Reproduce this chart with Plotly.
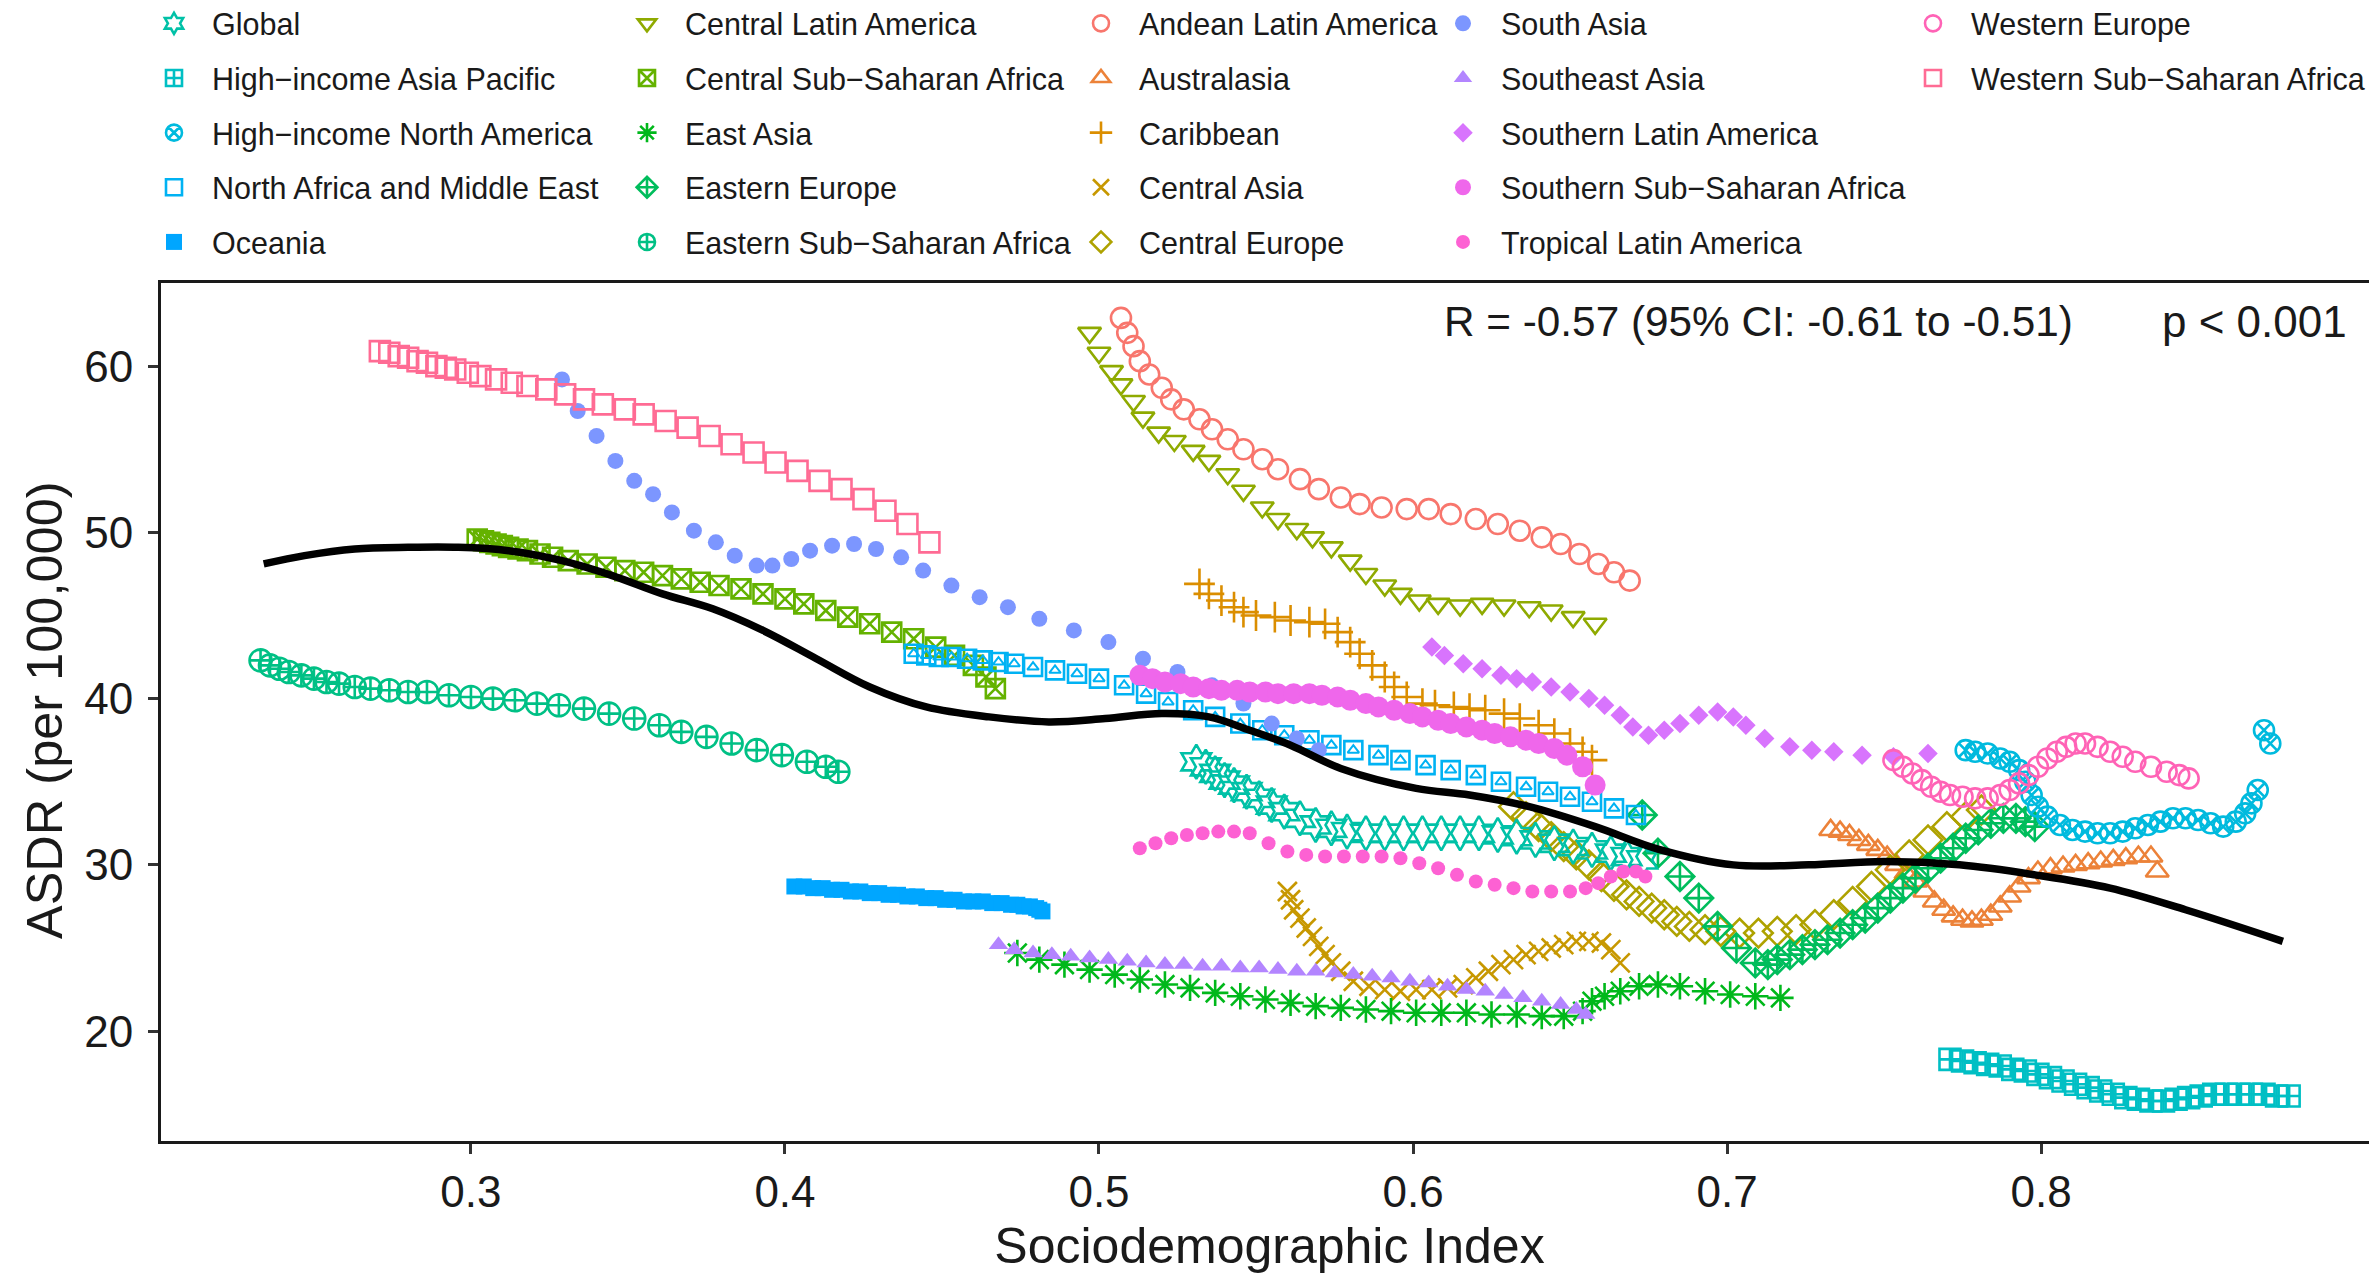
import math
import plotly.graph_objects as go

# ---------------- data ----------------
andean_sdi = [0.507,0.509,0.511,0.513,0.516,0.520,0.523,0.527,0.532,0.536,0.541,0.546,0.552,0.557,0.564,0.570,0.577,0.583,0.590,0.598,0.605,0.612,0.620,0.627,0.634,0.641,0.647,0.653,0.659,0.664,0.669]
andean_asdr = [62.9,62.0,61.2,60.3,59.5,58.7,58.0,57.4,56.8,56.2,55.6,55.0,54.4,53.8,53.2,52.6,52.1,51.7,51.5,51.4,51.4,51.1,50.8,50.5,50.1,49.7,49.3,48.7,48.1,47.6,47.1]

australasia_sdi = [0.733,0.736,0.739,0.742,0.745,0.748,0.751,0.754,0.757,0.760,0.763,0.766,0.769,0.772,0.775,0.778,0.781,0.784,0.787,0.790,0.793,0.796,0.799,0.803,0.807,0.811,0.815,0.819,0.823,0.827,0.831,0.835,0.837]
australasia_asdr = [32.1,32.0,31.8,31.5,31.2,30.9,30.5,30.0,29.5,29.0,28.4,27.8,27.3,26.9,26.7,26.6,26.7,27.0,27.5,28.1,28.7,29.2,29.6,29.8,29.9,30.0,30.1,30.2,30.3,30.4,30.5,30.5,29.6]

caribbean_sdi = [0.532,0.535,0.539,0.543,0.546,0.550,0.556,0.561,0.567,0.572,0.576,0.580,0.583,0.587,0.591,0.594,0.598,0.603,0.607,0.613,0.618,0.623,0.629,0.634,0.640,0.645,0.650,0.654,0.657]
caribbean_asdr = [46.9,46.3,45.9,45.5,45.2,45.0,44.9,44.7,44.6,44.5,44.0,43.4,42.7,42.0,41.3,40.7,40.1,39.7,39.6,39.5,39.4,39.3,39.1,38.8,38.4,37.9,37.3,36.8,36.3]

central_asia_sdi = [0.560,0.561,0.562,0.564,0.566,0.568,0.570,0.572,0.574,0.577,0.581,0.586,0.591,0.596,0.601,0.606,0.611,0.616,0.620,0.624,0.628,0.632,0.636,0.640,0.644,0.648,0.652,0.656,0.660,0.663,0.666]
central_asia_asdr = [28.4,27.9,27.3,26.8,26.2,25.7,25.1,24.6,24.1,23.6,23.0,22.7,22.5,22.4,22.5,22.5,22.6,22.8,23.2,23.6,24.0,24.3,24.6,24.8,25.0,25.2,25.4,25.4,25.3,24.9,24.1]

central_europe_sdi = [0.632,0.636,0.640,0.644,0.648,0.652,0.656,0.660,0.664,0.668,0.672,0.676,0.680,0.684,0.688,0.693,0.698,0.704,0.710,0.716,0.722,0.728,0.734,0.740,0.746,0.752,0.758,0.764,0.770,0.776,0.781]
central_europe_asdr = [33.5,32.9,32.3,31.7,31.1,30.6,30.0,29.3,28.7,28.2,27.8,27.4,27.0,26.6,26.3,26.1,26.0,25.9,25.9,26.0,26.1,26.4,27.0,27.8,28.7,29.7,30.6,31.5,32.3,32.9,33.3]

central_la_sdi = [0.497,0.500,0.504,0.507,0.511,0.514,0.519,0.524,0.530,0.535,0.541,0.546,0.552,0.557,0.563,0.568,0.574,0.580,0.585,0.591,0.596,0.602,0.608,0.615,0.622,0.629,0.637,0.644,0.651,0.658]
central_la_asdr = [62.0,60.8,59.7,58.9,57.9,56.9,56.0,55.5,54.9,54.3,53.5,52.5,51.5,50.8,50.2,49.7,49.1,48.3,47.5,46.8,46.3,45.9,45.7,45.6,45.7,45.6,45.5,45.3,44.9,44.5]

central_ssa_sdi = [0.302,0.304,0.306,0.308,0.310,0.312,0.315,0.318,0.322,0.326,0.331,0.337,0.343,0.349,0.355,0.361,0.367,0.373,0.379,0.386,0.393,0.400,0.406,0.413,0.420,0.427,0.434,0.441,0.448,0.454,0.460,0.464,0.467]
central_ssa_asdr = [49.6,49.5,49.4,49.3,49.2,49.1,49.0,48.9,48.7,48.5,48.3,48.1,47.9,47.7,47.6,47.4,47.2,47.0,46.8,46.6,46.3,46.0,45.7,45.3,44.9,44.5,44.0,43.6,43.1,42.6,42.0,41.3,40.6]

east_asia_sdi = [0.474,0.481,0.489,0.497,0.505,0.513,0.521,0.529,0.537,0.545,0.553,0.561,0.569,0.577,0.585,0.593,0.601,0.609,0.617,0.625,0.633,0.641,0.648,0.654,0.657,0.661,0.666,0.672,0.678,0.685,0.693,0.701,0.709,0.717]
east_asia_asdr = [24.7,24.3,24.0,23.7,23.4,23.1,22.8,22.6,22.3,22.1,21.9,21.7,21.5,21.4,21.3,21.2,21.1,21.1,21.1,21.0,21.0,20.9,20.9,21.2,21.8,22.1,22.4,22.7,22.8,22.7,22.4,22.2,22.1,22.0]

eastern_europe_sdi = [0.673,0.678,0.685,0.691,0.697,0.703,0.709,0.713,0.716,0.720,0.724,0.728,0.732,0.736,0.740,0.744,0.748,0.752,0.756,0.760,0.764,0.768,0.772,0.776,0.780,0.784,0.788,0.792,0.795,0.798]
eastern_europe_asdr = [33.0,30.7,29.3,28.0,26.3,25.0,24.1,24.0,24.3,24.6,24.9,25.2,25.5,25.9,26.4,26.8,27.4,28.0,28.6,29.2,29.8,30.4,31.0,31.6,32.1,32.5,32.8,32.8,32.6,32.3]

eastern_ssa_sdi = [0.233,0.236,0.239,0.242,0.246,0.250,0.254,0.258,0.263,0.268,0.274,0.280,0.286,0.293,0.300,0.307,0.314,0.321,0.328,0.336,0.344,0.352,0.360,0.367,0.375,0.383,0.391,0.399,0.407,0.413,0.417]
eastern_ssa_asdr = [42.3,42.0,41.8,41.6,41.4,41.2,41.0,40.9,40.7,40.6,40.5,40.4,40.4,40.2,40.1,40.0,39.9,39.7,39.6,39.4,39.1,38.8,38.4,38.0,37.7,37.3,36.9,36.6,36.2,35.9,35.6]

global_sdi = [0.531,0.534,0.537,0.540,0.543,0.547,0.551,0.555,0.559,0.564,0.569,0.574,0.579,0.585,0.591,0.597,0.603,0.609,0.615,0.621,0.627,0.633,0.639,0.645,0.651,0.657,0.663,0.668,0.673]
global_asdr = [36.2,35.9,35.5,35.1,34.8,34.4,34.0,33.6,33.2,32.8,32.4,32.2,32.0,31.9,31.9,31.9,31.9,31.9,31.9,31.9,31.8,31.7,31.5,31.3,31.1,30.9,30.7,30.5,30.3]

hi_asia_pacific_sdi = [0.771,0.775,0.779,0.783,0.787,0.791,0.795,0.799,0.803,0.807,0.811,0.815,0.819,0.823,0.827,0.831,0.835,0.839,0.843,0.847,0.851,0.855,0.859,0.863,0.867,0.871,0.875,0.879]
hi_asia_pacific_asdr = [18.3,18.2,18.1,18.0,17.9,17.7,17.6,17.4,17.2,17.0,16.8,16.6,16.4,16.2,16.0,15.9,15.8,15.8,15.9,16.0,16.1,16.2,16.2,16.2,16.2,16.2,16.1,16.1]

hi_north_america_sdi = [0.776,0.779,0.783,0.787,0.790,0.793,0.795,0.797,0.799,0.802,0.806,0.810,0.814,0.818,0.822,0.826,0.830,0.834,0.838,0.842,0.846,0.850,0.854,0.858,0.862,0.865,0.867,0.869,0.871,0.873]
hi_north_america_asdr = [36.9,36.8,36.7,36.4,36.2,35.7,35.0,34.2,33.5,32.9,32.4,32.1,32.0,31.9,31.9,32.0,32.2,32.4,32.6,32.8,32.8,32.7,32.5,32.3,32.6,33.1,33.7,34.5,38.1,37.3]

name_sdi = [0.441,0.445,0.449,0.453,0.458,0.463,0.468,0.473,0.479,0.486,0.493,0.500,0.508,0.515,0.522,0.530,0.537,0.545,0.552,0.559,0.567,0.574,0.581,0.589,0.596,0.604,0.612,0.620,0.628,0.636,0.643,0.650,0.657,0.664,0.671]
name_asdr = [42.7,42.6,42.5,42.5,42.4,42.3,42.2,42.1,41.9,41.7,41.5,41.2,40.8,40.3,39.8,39.3,38.9,38.5,38.1,37.8,37.5,37.2,36.9,36.6,36.3,36.0,35.7,35.4,35.0,34.7,34.4,34.1,33.8,33.4,33.0]

oceania_sdi = [0.403,0.406,0.409,0.412,0.415,0.418,0.421,0.424,0.427,0.430,0.433,0.436,0.439,0.442,0.445,0.448,0.451,0.454,0.457,0.460,0.463,0.466,0.469,0.472,0.474,0.476,0.478,0.480,0.481,0.482]
oceania_asdr = [28.7,28.7,28.6,28.6,28.5,28.5,28.4,28.4,28.3,28.3,28.2,28.2,28.1,28.1,28.0,28.0,27.9,27.9,27.8,27.8,27.8,27.7,27.7,27.6,27.6,27.5,27.5,27.4,27.3,27.2]

south_asia_sdi = [0.329,0.334,0.340,0.346,0.352,0.358,0.364,0.371,0.378,0.384,0.391,0.396,0.402,0.408,0.415,0.422,0.429,0.437,0.444,0.453,0.462,0.471,0.481,0.492,0.503,0.514,0.525,0.536,0.546,0.555,0.563,0.570]
south_asia_asdr = [59.2,57.3,55.8,54.3,53.1,52.3,51.2,50.1,49.4,48.6,48.0,48.0,48.4,48.9,49.2,49.3,49.0,48.5,47.7,46.8,46.1,45.5,44.8,44.1,43.4,42.4,41.6,40.8,39.7,38.5,37.6,36.9]

southeast_asia_sdi = [0.468,0.473,0.479,0.485,0.491,0.497,0.503,0.509,0.515,0.521,0.527,0.533,0.539,0.545,0.551,0.557,0.563,0.569,0.575,0.581,0.587,0.593,0.599,0.605,0.611,0.617,0.623,0.629,0.635,0.641,0.647,0.652,0.655]
southeast_asia_asdr = [25.2,24.9,24.7,24.6,24.5,24.4,24.3,24.2,24.1,24.0,24.0,23.9,23.9,23.8,23.8,23.7,23.6,23.6,23.5,23.4,23.3,23.2,23.0,22.9,22.7,22.5,22.4,22.2,22.0,21.8,21.6,21.3,21.0]

southern_la_sdi = [0.606,0.610,0.616,0.622,0.628,0.633,0.638,0.644,0.650,0.656,0.661,0.666,0.670,0.675,0.680,0.685,0.691,0.697,0.702,0.706,0.712,0.720,0.727,0.734,0.743,0.753,0.764]
southern_la_asdr = [43.1,42.6,42.1,41.8,41.4,41.2,41.0,40.7,40.4,40.0,39.6,39.0,38.3,37.8,38.1,38.5,39.0,39.2,38.9,38.4,37.6,37.1,36.9,36.8,36.6,36.5,36.7]

southern_ssa_sdi = [0.513,0.517,0.521,0.526,0.530,0.535,0.539,0.544,0.548,0.553,0.557,0.562,0.567,0.571,0.576,0.580,0.585,0.589,0.594,0.599,0.603,0.608,0.612,0.617,0.622,0.626,0.631,0.636,0.640,0.645,0.649,0.654,0.658]
southern_ssa_asdr = [41.4,41.2,41.0,40.9,40.7,40.6,40.5,40.5,40.4,40.4,40.3,40.3,40.3,40.2,40.1,39.9,39.7,39.5,39.3,39.1,38.9,38.7,38.5,38.3,38.1,37.9,37.7,37.5,37.3,37.0,36.6,35.9,34.8]

tropical_la_sdi = [0.513,0.518,0.523,0.528,0.533,0.538,0.543,0.548,0.554,0.560,0.566,0.572,0.578,0.584,0.590,0.596,0.602,0.608,0.614,0.620,0.626,0.632,0.638,0.644,0.650,0.655,0.659,0.663,0.667,0.671,0.674]
tropical_la_asdr = [31.0,31.3,31.6,31.8,31.9,32.0,32.0,31.9,31.3,30.8,30.6,30.5,30.5,30.5,30.5,30.4,30.1,29.8,29.4,29.0,28.8,28.6,28.4,28.4,28.4,28.6,28.9,29.3,29.6,29.6,29.3]

western_europe_sdi = [0.753,0.756,0.759,0.762,0.765,0.768,0.771,0.775,0.779,0.783,0.787,0.790,0.793,0.796,0.799,0.802,0.805,0.808,0.811,0.814,0.818,0.822,0.826,0.830,0.835,0.840,0.844,0.847]
western_europe_asdr = [36.3,35.9,35.5,35.1,34.7,34.4,34.2,34.1,34.0,34.0,34.2,34.5,34.9,35.4,35.9,36.4,36.8,37.1,37.3,37.3,37.1,36.8,36.5,36.2,35.9,35.6,35.4,35.2]

western_ssa_sdi = [0.271,0.274,0.277,0.280,0.283,0.286,0.289,0.292,0.295,0.299,0.303,0.308,0.313,0.318,0.324,0.330,0.336,0.342,0.349,0.355,0.362,0.369,0.376,0.383,0.390,0.397,0.404,0.411,0.418,0.425,0.432,0.439,0.446]
western_ssa_asdr = [60.9,60.8,60.6,60.5,60.3,60.2,60.0,59.9,59.8,59.6,59.4,59.2,59.0,58.8,58.6,58.3,58.0,57.7,57.4,57.1,56.7,56.3,55.8,55.3,54.8,54.2,53.7,53.1,52.6,52.0,51.3,50.5,49.4]

# overall smoothed fit (black curve)
fit_sdi = [0.234,0.247,0.263,0.280,0.296,0.312,0.329,0.345,0.361,0.377,0.393,0.410,0.427,0.445,0.465,0.484,0.502,0.520,0.535,0.548,0.561,0.577,0.601,0.618,0.637,0.658,0.678,0.702,0.726,0.750,0.774,0.798,0.822,0.846,0.877]
fit_asdr = [48.1,48.6,49.0,49.1,49.1,48.9,48.3,47.4,46.3,45.4,44.1,42.4,40.7,39.5,38.9,38.6,38.8,39.1,38.9,38.1,37.2,35.8,34.6,34.2,33.5,32.3,30.95,30.0,30.0,30.2,30.0,29.4,28.6,27.3,25.4]

x_ticks = [0.3, 0.4, 0.5, 0.6, 0.7, 0.8]
y_ticks = [20, 30, 40, 50, 60]
stat_label = "R = -0.57 (95% CI: -0.61 to -0.51)"
p_label = "p < 0.001"
x_title = "Sociodemographic Index"
y_title = "ASDR (per 100,000)"

# ---------------- styling ----------------
W, H = 2377, 1274
ML, MR, MT, MB = 153, 7, 275, 141
PW = W - ML - MR
PH = H - MT - MB
FONT = "Liberation Sans, Arial, sans-serif"
INK = "#1a1a1a"


def hcl_hex(h, c=100.0, l=65.0):
    hr = math.radians(h)
    u, v = c * math.cos(hr), c * math.sin(hr)
    Xn, Yn, Zn = 95.047, 100.0, 108.883
    den = Xn + 15 * Yn + 3 * Zn
    un, vn = 4 * Xn / den, 9 * Yn / den
    Y = Yn * ((l + 16) / 116) ** 3
    up, vp = u / (13 * l) + un, v / (13 * l) + vn
    X = Y * 9 * up / (4 * vp)
    Z = Y * (12 - 3 * up - 20 * vp) / (4 * vp)
    X, Y, Z = X / 100, Y / 100, Z / 100
    r = 3.240479 * X - 1.537150 * Y - 0.498535 * Z
    g = -0.969256 * X + 1.875992 * Y + 0.041556 * Z
    b = 0.055648 * X - 0.204043 * Y + 1.057311 * Z

    def gam(t):
        t = 12.92 * t if t <= 0.0031308 else 1.055 * t ** (1 / 2.4) - 0.055
        return max(0, min(255, round(t * 255)))
    return "#%02X%02X%02X" % (gam(r), gam(g), gam(b))


M = "\u2212"
series = [
    ("Andean Latin America", andean_sdi, andean_asdr, "circle-open", 20, "legend3"),
    ("Australasia", australasia_sdi, australasia_asdr, "triangle-up-open", 20, "legend3"),
    ("Caribbean", caribbean_sdi, caribbean_asdr, "cross-thin-open", 22, "legend3"),
    ("Central Asia", central_asia_sdi, central_asia_asdr, "x-thin-open", 19, "legend3"),
    ("Central Europe", central_europe_sdi, central_europe_asdr, "diamond-open", 22, "legend3"),
    ("Central Latin America", central_la_sdi, central_la_asdr, "triangle-down-open", 20, "legend2"),
    ("Central Sub" + M + "Saharan Africa", central_ssa_sdi, central_ssa_asdr, "square-x-open", 19, "legend2"),
    ("East Asia", east_asia_sdi, east_asia_asdr, "asterisk-open", 22, "legend2"),
    ("Eastern Europe", eastern_europe_sdi, eastern_europe_asdr, "diamond-cross-open", 22, "legend2"),
    ("Eastern Sub" + M + "Saharan Africa", eastern_ssa_sdi, eastern_ssa_asdr, "circle-cross-open", 22, "legend2"),
    ("Global", global_sdi, global_asdr, "hexagram-open", 26, "legend"),
    ("High" + M + "income Asia Pacific", hi_asia_pacific_sdi, hi_asia_pacific_asdr, "square-cross-open", 21, "legend"),
    ("High" + M + "income North America", hi_north_america_sdi, hi_north_america_asdr, "circle-x-open", 20, "legend"),
    ("North Africa and Middle East", name_sdi, name_asdr, "square-open", 18, "legend"),
    ("Oceania", oceania_sdi, oceania_asdr, "square", 16, "legend"),
    ("South Asia", south_asia_sdi, south_asia_asdr, "circle", 16, "legend4"),
    ("Southeast Asia", southeast_asia_sdi, southeast_asia_asdr, "triangle-up", 17, "legend4"),
    ("Southern Latin America", southern_la_sdi, southern_la_asdr, "diamond", 15, "legend4"),
    ("Southern Sub" + M + "Saharan Africa", southern_ssa_sdi, southern_ssa_asdr, "circle", 21, "legend4"),
    ("Tropical Latin America", tropical_la_sdi, tropical_la_asdr, "circle", 14, "legend4"),
    ("Western Europe", western_europe_sdi, western_europe_asdr, "circle-open", 20, "legend5"),
    ("Western Sub" + M + "Saharan Africa", western_ssa_sdi, western_ssa_asdr, "square-open", 20, "legend5"),
]

n = len(series)
colors = [hcl_hex(15 + i * 360.0 / n) for i in range(n)]

fig = go.Figure()
for i, (name, xs, ys, sym, size, lg) in enumerate(series):
    col = colors[i]
    is_open = sym.endswith("-open")
    fig.add_trace(go.Scatter(
        x=xs, y=ys, mode="markers", name=name, legend=lg, legendgroup=name,
        marker=dict(symbol=sym, size=size, color=col,
                    line=dict(width=2.6 if is_open else 0, color=col)),
    ))
    if name == "North Africa and Middle East":
        fig.add_trace(go.Scatter(
            x=xs, y=ys, mode="markers", showlegend=False, legend=lg, legendgroup=name,
            marker=dict(symbol="triangle-up-open", size=10, color=col, line=dict(width=2, color=col)),
        ))

fig.add_trace(go.Scatter(x=fit_sdi, y=fit_asdr, mode="lines", showlegend=False,
                         line=dict(color="black", width=7.5, shape="spline", smoothing=1.0)))

# legends: five columns placed above the panel
ITEMW = 66
col_text_px = {"legend": 206, "legend2": 679, "legend3": 1133, "legend4": 1495, "legend5": 1965}
legend_top_px = -11
leg_common = dict(orientation="v", xanchor="left", yanchor="top", bgcolor="rgba(0,0,0,0)",
                  font=dict(family=FONT, size=30.5, color=INK),
                  tracegroupgap=12, itemwidth=ITEMW)
legends = {}
for key, tx in col_text_px.items():
    legends[key] = dict(leg_common, x=(tx - (ITEMW + 10) - 2 - ML) / PW, y=1 + (MT - legend_top_px) / PH)

axis_common = dict(showgrid=False, zeroline=False, showline=True, mirror=True,
                   linecolor=INK, linewidth=3, ticks="outside", ticklen=10,
                   tickwidth=2.5, tickcolor="#333333",
                   tickfont=dict(family=FONT, size=44, color=INK))

fig.update_layout(
    width=W, height=H, autosize=False,
    margin=dict(l=ML, r=MR, t=MT, b=MB, pad=0, autoexpand=False),
    paper_bgcolor="white", plot_bgcolor="white",
    font=dict(family=FONT, color=INK),
    xaxis=dict(axis_common, range=[0.2013, 0.9073], tickvals=x_ticks,
               ticktext=[f"{v:.1f}" for v in x_ticks], automargin=False,
               title=dict(text=x_title, font=dict(size=50, color=INK), standoff=14)),
    yaxis=dict(axis_common, range=[13.39, 65.0], tickvals=y_ticks, ticklabelstandoff=6, automargin=False),
    showlegend=True,
    **legends,
)

# y-axis title placed as rotated text, slightly above the panel centre as in the reference
fig.add_annotation(x=(36 - ML) / PW, y=1 - (702 - MT) / PH, xref="paper", yref="paper",
                   text=y_title, textangle=-90, showarrow=False, xanchor="center", yanchor="middle",
                   font=dict(family=FONT, size=50.5, color=INK))

fig.add_annotation(x=(1434 - ML) / PW, y=1 - (314 - MT) / PH, xref="paper", yref="paper",
                   text=stat_label, showarrow=False, xanchor="left", yanchor="middle",
                   font=dict(family=FONT, size=42.3, color=INK))
fig.add_annotation(x=(2341 - ML) / PW, y=1 - (314 - MT) / PH, xref="paper", yref="paper",
                   text=p_label, showarrow=False, xanchor="right", yanchor="middle",
                   font=dict(family=FONT, size=44, color=INK))

fig.write_html("out.html")
